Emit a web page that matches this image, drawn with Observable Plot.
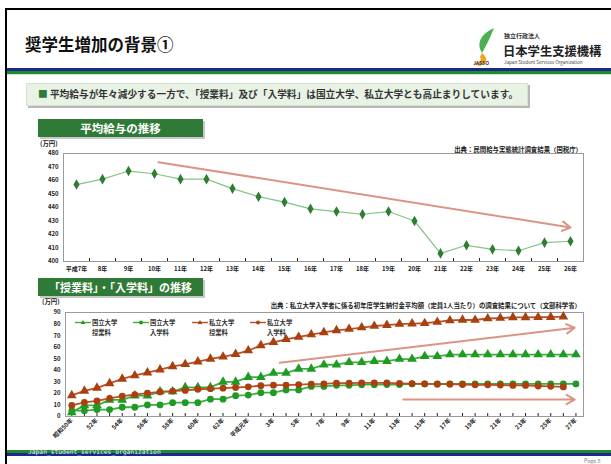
<!DOCTYPE html>
<html><head><meta charset="utf-8">
<script src="https://cdn.jsdelivr.net/npm/d3@7"></script>
<script src="https://cdn.jsdelivr.net/npm/@observablehq/plot@0.6"></script>
<style>
body{margin:0;width:611px;height:464px;position:relative;overflow:hidden;background:#fff;font-family:"Noto Sans CJK JP","Noto Sans",sans-serif;}
.a{position:absolute;white-space:nowrap;}
.gh{background:#2f7a36;color:#fff;font-weight:bold;text-align:center;box-shadow:2px 2px 0 #c8c8c8;}
.sm{font-size:6.4px;font-weight:bold;color:#222;line-height:7px;}
.leg{font-size:6.3px;font-weight:bold;color:#333;line-height:9.5px;}
</style></head><body>
<div class="a" style="left:5px;top:8px;width:640px;height:480px;border-left:2px solid #000;border-top:2px solid #000;"></div>
<div class="a" style="left:25px;top:33px;font-size:16.5px;font-weight:bold;color:#111;line-height:22px;">奨学生増加の背景①</div>
<!-- logo -->
<svg class="a" style="left:472px;top:26px;" width="32" height="42" viewBox="0 0 32 42">
  <path d="M22 2 C8 8 4 18 10 27 C14 20 18 12 22 2 Z" fill="#4caf50"/>
  <path d="M10 27 C14 30 16 34 12 38 C8 41 4 40 3 37 C8 37 10 34 8 31 Z" fill="#f5a21b"/>
</svg>
<div class="a" style="left:504px;top:31px;font-size:6px;font-weight:bold;color:#333;">独立行政法人</div>
<div class="a" style="left:503px;top:44px;font-size:12.3px;font-weight:bold;color:#222;line-height:14px;">日本学生支援機構</div>
<div class="a" style="left:473px;top:59px;font-size:5px;font-weight:bold;color:#444;">JASSO</div>
<div class="a" style="left:504px;top:59px;font-size:4.6px;color:#444;">Japan Student Services Organization</div>
<div class="a" style="left:7px;top:68px;width:604px;height:3px;background:#1b2a8a;"></div>
<div class="a" style="left:7px;top:71px;width:604px;height:3px;background:#1e8c2a;"></div>
<div class="a" style="left:7px;top:74px;width:604px;height:1px;background:#cfe6cf;"></div>
<div class="a" style="left:26px;top:83px;width:500px;height:21px;background:#e9f3e5;border:1px solid #d3e6cd;box-shadow:2px 2px 0 #b8b8b8;"></div>
<div class="a" style="left:38px;top:83px;font-size:9.7px;font-weight:bold;color:#333;line-height:22px;"><span style="color:#2f7a36;">■</span> 平均給与が年々減少する一方で、「授業料」及び「入学料」は国立大学、私立大学とも高止まりしています。</div>
<div class="a gh" style="left:38px;top:119px;width:165px;height:18px;font-size:11.5px;line-height:18px;">平均給与の推移</div>
<div class="a sm" style="left:40px;top:140px;">(万円)</div>
<div class="a sm" style="right:29px;top:146px;">出典：民間給与実態統計調査結果（国税庁）</div>
<div id="c1"></div>
<div class="a gh" style="left:38px;top:278px;width:165px;height:18px;font-size:11px;line-height:18px;">「授業料」・「入学料」の推移</div>
<div class="a sm" style="left:42px;top:298px;">(万円)</div>
<div class="a sm" style="right:30px;top:302px;">出典：私立大学入学者に係る初年度学生納付金平均額（定員1人当たり）の調査結果について（文部科学省）</div>
<div id="c2"></div>
<div id="legend"></div>
<div class="a" style="left:7px;top:450px;width:604px;height:3px;background:#1e8c2a;"></div>
<div class="a" style="left:7px;top:453px;width:604px;height:3px;background:#1b2a8a;"></div>
<div class="a" style="left:28px;top:448px;font-size:6.3px;color:#e8f0ff;font-family:'DejaVu Sans Mono',monospace;line-height:8px;">Japan_student_services_organization</div>
<div class="a" style="left:584px;top:457px;font-size:5.5px;color:#888;">Page 8</div>
<script>
// ---- Chart 1: average salary ----
const salaryYears = ["平成7年","8年","9年","10年","11年","12年","13年","14年","15年","16年","17年","18年","19年","20年","21年","22年","23年","24年","25年","26年"];
const salaryValues = [457, 461, 467, 465, 461, 461, 454, 448, 444, 439, 437, 435, 437, 430, 406, 412, 409, 408, 414, 415];
const salaryTicks = [400, 410, 420, 430, 440, 450, 460, 470, 480];
const salaryArrow = [{x1: 3.15, y1: 473.6, x2: 19.0, y2: 425.2}];

// ---- Chart 2: tuition & entrance fees ----
const feeYears = [1975,1976,1977,1978,1979,1980,1981,1982,1983,1984,1985,1986,1987,1988,1989,1990,1991,1992,1993,1994,1995,1996,1997,1998,1999,2000,2001,2002,2003,2004,2005,2006,2007,2008,2009,2010,2011,2012,2013,2014,2015];
const natTuition = [3.6,9.6,9.6,14.4,14.4,18.0,18.0,21.6,21.6,25.2,25.2,25.2,30.0,30.0,34.0,34.0,37.6,37.6,41.2,41.2,44.8,44.8,46.9,46.9,47.9,47.9,49.7,49.7,52.1,52.1,53.6,53.6,53.6,53.6,53.6,53.6,53.6,53.6,53.6,53.6,53.6];
const natEntrance = [5.0,5.0,6.0,6.0,8.0,8.0,10.0,10.0,12.0,12.0,12.0,15.0,15.0,18.0,18.5,20.6,20.6,23.0,23.0,26.0,26.0,27.0,27.0,27.5,27.5,27.7,27.7,28.2,28.2,28.2,28.2,28.2,28.2,28.2,28.2,28.2,28.2,28.2,28.2,28.2,28.2];
const privTuition = [18.3,22.2,24.8,28.7,32.5,35.5,38.0,40.6,43.3,45.2,47.5,49.8,51.7,54.0,57.1,61.5,64.2,66.8,68.8,70.9,72.8,74.5,75.7,77.0,78.3,79.0,80.0,80.4,80.7,81.8,83.1,83.6,83.5,84.8,85.2,85.8,85.8,85.9,86.0,86.4];
const privEntrance = [9.6,12.2,13.5,15.7,17.6,19.0,20.3,21.3,21.9,22.6,23.6,24.1,24.5,25.1,25.7,26.7,27.1,27.2,27.6,28.1,28.3,28.8,28.8,29.1,29.1,29.1,28.7,28.5,28.3,28.0,28.0,27.7,27.4,27.4,27.2,26.9,26.9,26.4,26.1,25.6];
const feeLabelYears = [1975,1977,1979,1981,1983,1985,1987,1989,1991,1993,1995,1997,1999,2001,2003,2005,2007,2009,2011,2013,2015];
const feeLabels = ["昭和50年","52年","54年","56年","58年","60年","62年","平成元年","3年","5年","7年","9年","11年","13年","15年","17年","19年","21年","23年","25年","27年"];
const feeTicks = [0,10,20,30,40,50,60,70,80,90];
const feeArrows = [
  {x1: 1991.5, y1: 46.6, x2: 2014.9, y2: 76.8},
  {x1: 2001.3, y1: 14.7, x2: 2014.9, y2: 14.7}
];
const seriesNames = [["国立大学","授業料"],["国立大学","入学料"],["私立大学","授業料"],["私立大学","入学料"]];

const GREEN_LINE = "#3fae3f", GREEN_DOT = "#1f9a25", RED_LINE = "#b9502a", RED_DOT = "#a8400f", ARROW = "#dc9486";
const font = {fontFamily: '"Noto Sans CJK JP", sans-serif', fontSize: "6px", fontWeight: "bold", color: "#222", background: "transparent"};
const blank = () => "";

const sal = salaryValues.map((v, i) => ({i, v}));
const idx = salaryYears.map((_, i) => i);
const bounds = idx.slice(0, -1).map(i => i + 0.5);

const p1 = Plot.plot({
  width: 611, height: 135,
  marginLeft: 63, marginRight: 28, marginTop: 13, marginBottom: 14,
  style: font,
  x: {domain: [-0.5, salaryYears.length - 0.5]},
  y: {domain: [400, 480]},
  marks: [
    Plot.frame({stroke: "#9a9a9a"}),
    Plot.axisY({ticks: salaryTicks, tickSize: 0, tickPadding: 5, label: null}),
    Plot.axisX({ticks: idx, tickFormat: i => salaryYears[i], tickSize: 0, tickPadding: 5, label: null}),
    Plot.axisX({ticks: bounds, tickFormat: blank, tickSize: -3, label: null}),
    Plot.arrow(salaryArrow, {x1: "x1", y1: "y1", x2: "x2", y2: "y2", stroke: ARROW, strokeWidth: 2, headLength: 7, bend: 0}),
    Plot.line(sal, {x: "i", y: "v", stroke: "#86c486", strokeWidth: 1.2}),
    Plot.dot(sal, {x: "i", y: "v", symbol: "diamond", r: 3.2, fill: "#2e7d32"})
  ]
});
Object.assign(p1.style, {position: "absolute", left: "0px", top: "140px"});
document.getElementById("c1").appendChild(p1);

const mk = (arr) => arr.map((v, i) => ({year: feeYears[i], v}));
const nt = mk(natTuition), ne = mk(natEntrance), pt = mk(privTuition), pe = mk(privEntrance);

const p2 = Plot.plot({
  width: 611, height: 150,
  marginLeft: 65, marginRight: 28, marginTop: 14, marginBottom: 32,
  style: font,
  x: {domain: [1974.5, 2015.6]},
  y: {domain: [0, 90]},
  marks: [
    Plot.frame({stroke: "#9a9a9a"}),
    Plot.axisY({ticks: feeTicks, tickSize: 0, tickPadding: 5, label: null}),
    Plot.axisX({ticks: feeLabelYears, tickFormat: (d, i) => feeLabels[i], tickRotate: -45, tickSize: 0, tickPadding: 3, label: null}),
    Plot.axisX({ticks: feeYears, tickFormat: blank, tickSize: -3, label: null}),
    Plot.arrow(feeArrows, {x1: "x1", y1: "y1", x2: "x2", y2: "y2", stroke: ARROW, strokeWidth: 2, headLength: 7, bend: 0}),
    Plot.line(nt, {x: "year", y: "v", stroke: GREEN_LINE, strokeWidth: 1.8}),
    Plot.dot(nt, {x: "year", y: "v", symbol: "triangle", r: 3.6, fill: GREEN_DOT}),
    Plot.line(ne, {x: "year", y: "v", stroke: GREEN_LINE, strokeWidth: 1.8}),
    Plot.dot(ne, {x: "year", y: "v", symbol: "circle", r: 3.4, fill: GREEN_DOT}),
    Plot.line(pt, {x: "year", y: "v", stroke: RED_LINE, strokeWidth: 1.8}),
    Plot.dot(pt, {x: "year", y: "v", symbol: "triangle", r: 3.6, fill: RED_DOT}),
    Plot.line(pe, {x: "year", y: "v", stroke: RED_LINE, strokeWidth: 1.8}),
    Plot.dot(pe, {x: "year", y: "v", symbol: "circle", r: 3.4, fill: RED_DOT})
  ]
});
Object.assign(p2.style, {position: "absolute", left: "0px", top: "298px"});
document.getElementById("c2").appendChild(p2);

// legend (HTML overlay)
const legX = [75, 133, 192, 250];
const legColors = [[GREEN_LINE, GREEN_DOT, "tri"], [GREEN_LINE, GREEN_DOT, "cir"], [RED_LINE, RED_DOT, "tri"], [RED_LINE, RED_DOT, "cir"]];
const leg = document.getElementById("legend");
seriesNames.forEach((n, k) => {
  const [lc, dc, s] = legColors[k];
  const x = legX[k];
  const marker = s === "tri"
    ? `<path d="M8,5 L10.3,9 L5.7,9 Z" fill="${dc}"/>`
    : `<circle cx="8" cy="7.5" r="2" fill="${dc}"/>`;
  leg.insertAdjacentHTML("beforeend",
    `<svg class="a" style="left:${x}px;top:315px;" width="16" height="14"><line x1="0" x2="16" y1="7.5" y2="7.5" stroke="${lc}" stroke-width="1.4"/>${marker}</svg>` +
    `<div class="a leg" style="left:${x + 17}px;top:318px;">${n[0]}<br>${n[1]}</div>`);
});
</script>
</body></html>
